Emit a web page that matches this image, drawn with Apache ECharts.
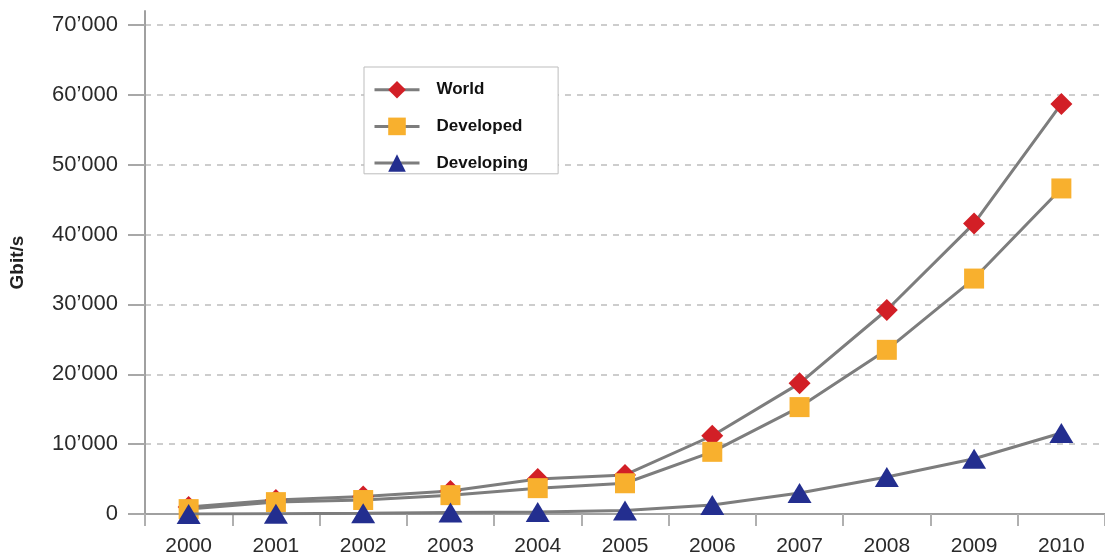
<!DOCTYPE html>
<html>
<head>
<meta charset="utf-8">
<script src="https://cdn.jsdelivr.net/npm/echarts@6/dist/echarts.min.js"></script>
<style>
  html, body { margin: 0; padding: 0; background: #fff; }
  #chart { width: 1105px; height: 560px; }
</style>
</head>
<body>
<div id="chart"></div>
<script>
const years = ['2000','2001','2002','2003','2004','2005','2006','2007','2008','2009','2010'];
const world = [1000, 2000, 2500, 3300, 5000, 5600, 11200, 18700, 29200, 41600, 58700];
const developed = [700, 1700, 2000, 2700, 3700, 4400, 8900, 15300, 23500, 33700, 46600];
const developing = [0, 50, 100, 200, 300, 500, 1300, 3000, 5300, 7900, 11600];
const yTicks = [0, 10000, 20000, 30000, 40000, 50000, 60000, 70000];

const FONT = 'Liberation Sans';
const lineColor = '#7d7d7d';

function fmt(v) {
  if (v === 0) return '0';
  const s = String(v);
  return s.slice(0, s.length - 3) + '\u2019' + s.slice(s.length - 3);
}

const chart = echarts.init(document.getElementById('chart'), null, { renderer: 'canvas' });
chart.setOption({
  animation: false,
  backgroundColor: '#ffffff',
  textStyle: { fontFamily: FONT },
  grid: { left: 145, right: -8, top: 11, bottom: 46, containLabel: false },
  legend: {
    orient: 'vertical',
    left: 364,
    top: 67,
    padding: [14, 30, 2, 9],
    itemGap: 19,
    itemWidth: 45,
    itemHeight: 22,
    backgroundColor: '#ffffff',
    borderColor: '#bdbdbd',
    borderWidth: 1,
    lineStyle: { width: 3, color: lineColor },
    textStyle: { fontFamily: FONT, fontSize: 17, fontWeight: 'bold', color: '#111', padding: [0, 0, 0, 12] },
    data: ['World', 'Developed', 'Developing']
  },
  xAxis: {
    type: 'category',
    data: years,
    boundaryGap: true,
    axisLine: { show: true, lineStyle: { color: '#a0a0a0', width: 2 } },
    axisTick: { show: true, length: 12, lineStyle: { color: '#b0b0b0', width: 2 } },
    axisLabel: { color: '#2a2a2a', fontSize: 21, fontFamily: FONT, margin: 22 },
    splitLine: { show: false }
  },
  yAxis: {
    type: 'value',
    min: 0,
    max: 72000,
    interval: 10000,
    name: 'Gbit/s',
    nameLocation: 'middle',
    nameGap: 118,
    nameRotate: 90,
    nameTextStyle: { fontFamily: FONT, fontSize: 19, fontWeight: 'bold', color: '#222' },
    axisLine: { show: true, lineStyle: { color: '#a0a0a0', width: 2 } },
    axisTick: { show: true, inside: false, length: 17, customValues: yTicks, lineStyle: { color: '#a8a8a8', width: 2 } },
    axisLabel: { customValues: yTicks, color: '#2a2a2a', fontSize: 22, fontFamily: FONT, margin: 27, formatter: fmt },
    splitLine: { show: true, lineStyle: { color: '#bdbdbd', width: 1.5, type: [6, 6] } }
  },
  series: [
    {
      name: 'World', type: 'line', data: world,
      symbol: 'diamond', symbolSize: 22,
      lineStyle: { color: lineColor, width: 3 },
      itemStyle: { color: '#d21f26' },
      z: 2
    },
    {
      name: 'Developed', type: 'line', data: developed,
      symbol: 'rect', symbolSize: 20,
      lineStyle: { color: lineColor, width: 3 },
      itemStyle: { color: '#f8b02e' },
      z: 3
    },
    {
      name: 'Developing', type: 'line', data: developing,
      symbol: 'triangle', symbolSize: [24, 20],
      lineStyle: { color: lineColor, width: 3 },
      itemStyle: { color: '#232e8f' },
      z: 4
    }
  ]
});
</script>
</body>
</html>
